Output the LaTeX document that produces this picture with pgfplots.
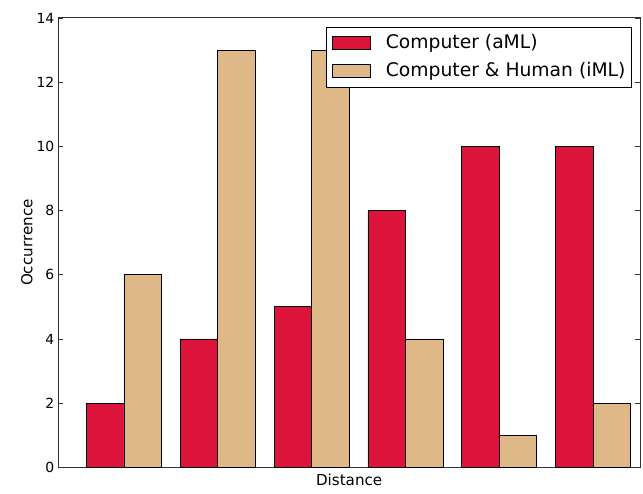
\documentclass[border=0pt]{standalone}
\usepackage{fontspec}
\setmainfont{DejaVu Sans}
\usepackage{pgfplots}
\pgfplotsset{compat=1.18}
\definecolor{crimson}{HTML}{DC143C}
\definecolor{burlywood}{HTML}{DEB887}
\begin{document}
\begin{tikzpicture}
\begin{axis}[
    scale only axis,
    width=581.7bp, height=449.3bp,
    xmin=-0.3, xmax=5.9,
    ymin=0, ymax=14,
    ytick={0,2,...,14},
    xtick=\empty,
    ytick pos=both,
    tick align=inside,
    major tick length=5bp,
    axis line style={line width=1bp, black!80},
    every tick/.style={line width=0.8bp, black!80},
    /pgf/number format/assume math mode=true,
    tick label style={font=\fontsize{14}{16}\selectfont},
    yticklabel style={xshift=-0.5bp},
    label style={font=\fontsize{15.2}{17}\selectfont},
    xlabel={Distance},
    ylabel={Occurrence},
    xlabel style={yshift=2bp},
    ylabel style={yshift=-3bp},
    ybar, bar width=0.4, bar shift=0pt,
    legend image code/.code={\draw[#1] (0bp,-6.5bp) rectangle (38bp,6.5bp);},
    legend style={at={(0.986,0.98)}, anchor=north east,
        draw=black, line width=0.8bp,
        font=\fontsize{18.8}{22}\selectfont,
        inner xsep=6bp, inner ysep=5bp, row sep=6bp,
        nodes={inner xsep=0bp, inner ysep=2bp, text height=14bp, text depth=4bp},
        /tikz/every odd column/.append style={column sep=15bp}},
    legend cell align=left,
]
\addplot[fill=crimson, draw=black, line width=0.8bp] coordinates {
    (0.2,2) (1.2,4) (2.2,5) (3.2,8) (4.2,10) (5.2,10)
};
\addlegendentry{Computer (aML)}
\addplot[fill=burlywood, draw=black, line width=0.8bp] coordinates {
    (0.6,6) (1.6,13) (2.6,13) (3.6,4) (4.6,1) (5.6,2)
};
\addlegendentry{Computer \& Human (iML)}
\end{axis}
\pgfresetboundingbox
\path ([shift={(-58.3bp,-26.7bp)}]current axis.south west) rectangle ([shift={(3bp,18bp)}]current axis.north east);
\end{tikzpicture}
\end{document}
